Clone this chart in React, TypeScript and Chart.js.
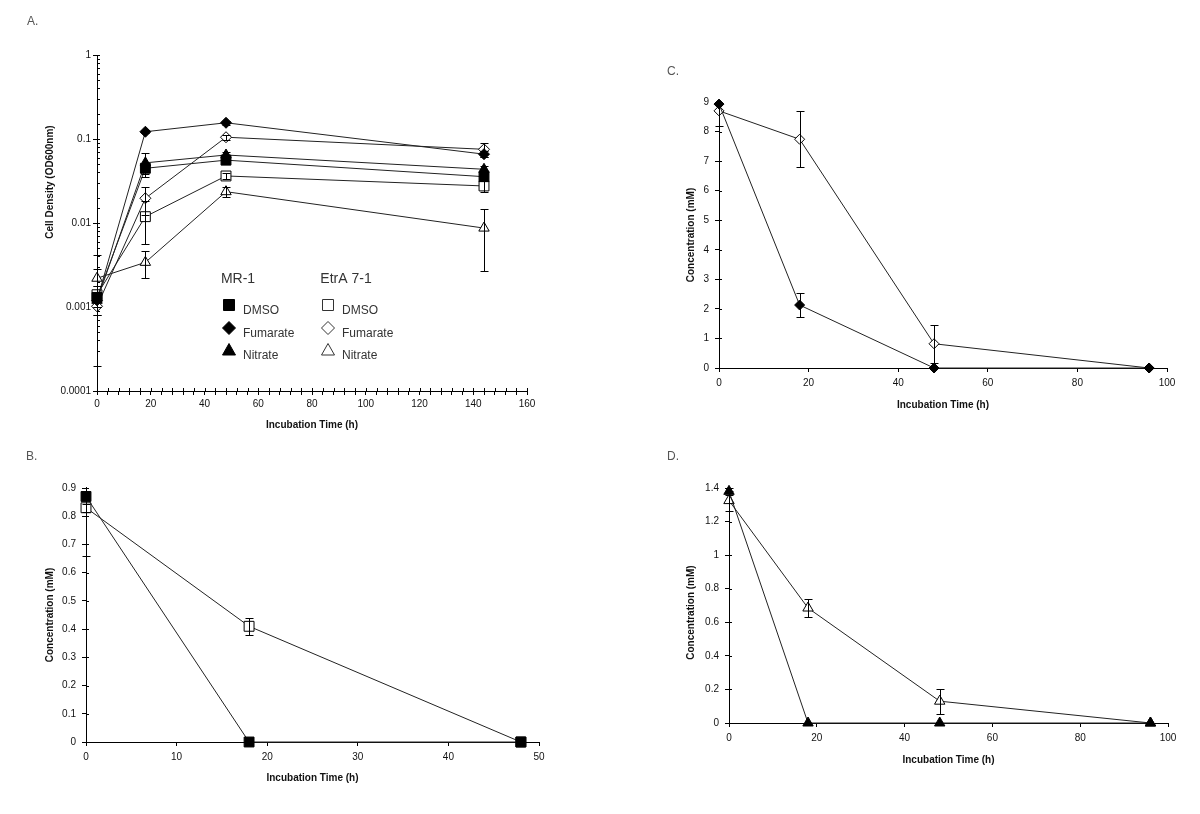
import React, { useEffect, useRef } from 'react';
import { Chart, registerables } from 'chart.js';

Chart.register(...registerables);

const FONT = "'Liberation Sans', Arial, sans-serif";

// ---------- Panel A: cell density (log scale) ----------
const timeA = [0, 18, 48, 144];
const mr1DmsoOD = [0.0013, 0.0448, 0.056, 0.0356];
const mr1DmsoODErr = [0.0005, 0.007, 0.004, 0.003];
const mr1FumarateOD = [0.0012, 0.122, 0.156, 0.066];
const mr1FumarateODErr = [0.0002, 0.005, 0.008, 0.005];
const mr1NitrateOD = [0.0012, 0.052, 0.0645, 0.0436];
const mr1NitrateODErr = [0.0016, 0.017, 0.005, 0.004];
const etrDmsoOD = [0.0014, 0.0119, 0.0363, 0.0276];
const etrDmsoODErr = [0.0004, 0.0063, 0.003, 0.0043];
const etrFumarateOD = [0.00102, 0.0197, 0.105, 0.0754];
const etrFumarateODErr = [0.00022, 0.0073, 0.008, 0.014];
const etrNitrateOD = [0.0022, 0.0034, 0.0236, 0.0087];
const etrNitrateODErr = [0.002, 0.0012, 0.003, 0.006];
const yTickLabelsA = ['0.0001', '0.001', '0.01', '0.1', '1'];

// ---------- Panel B: DMSO concentration ----------
const timeB = [0, 18, 48];
const mr1DmsoMM = [0.87, 0, 0];
const mr1DmsoMMErr = [0.21, 0, 0];
const etrDmsoMM = [0.83, 0.41, 0];
const etrDmsoMMErr = [0.015, 0.03, 0];

// ---------- Panels C & D: fumarate / nitrate concentration ----------
const timeCD = [0, 18, 48, 96];
const mr1FumarateMM = [8.93, 2.13, 0, 0];
const mr1FumarateMMErr = [0, 0.42, 0, 0];
const etrFumarateMM = [8.7, 7.74, 0.82, 0];
const etrFumarateMMErr = [0.5, 0.95, 0.64, 0];
const mr1NitrateMM = [1.38, 0, 0, 0];
const mr1NitrateMMErr = [0.02, 0, 0, 0];
const etrNitrateMM = [1.325, 0.685, 0.13, 0];
const etrNitrateMMErr = [0.06, 0.056, 0.075, 0];

// ---------- labels ----------
const legendGroups = ['MR-1', 'EtrA 7-1'];
const legendItems = ['DMSO', 'Fumarate', 'Nitrate'];
const legendStyles = ['rect', 'rectRot', 'triangle'];
const xTitle = 'Incubation Time (h)';
const yTitleA = 'Cell Density (OD600nm)';
const yTitleConc = 'Concentration (mM)';

function series(label: string, xs: number[], ys: number[], errs: number[], style: string, filled: boolean, radius: number) {
  return {
    label,
    data: xs.map((x, i) => ({ x, y: ys[i] })),
    errors: errs,
    showLine: true,
    borderColor: '#222',
    borderWidth: 1,
    pointStyle: style,
    pointRadius: radius,
    pointHoverRadius: radius,
    pointBackgroundColor: filled ? '#000' : '#fff',
    pointBorderColor: '#000',
    pointBorderWidth: 1,
    tension: 0,
    fill: false,
    clip: false,
  };
}

const errorBarPlugin = {
  id: 'errorBars',
  afterDatasetsDraw(chart: any) {
    const { ctx, chartArea: a, scales } = chart;
    const xs = scales.x;
    const ys = scales.y;
    const isLog = ys.type === 'logarithmic';
    ctx.save();
    ctx.beginPath();
    ctx.rect(a.left - 8, a.top - 1, a.right - a.left + 16, a.bottom - a.top + 2);
    ctx.clip();
    ctx.strokeStyle = '#000';
    ctx.lineWidth = 1;
    chart.data.datasets.forEach((ds: any) => {
      const errs = ds.errors;
      if (!errs) return;
      ds.data.forEach((p: any, j: number) => {
        const e = errs[j];
        if (!e) return;
        const px = Math.round(xs.getPixelForValue(p.x)) + 0.5;
        const hi = p.y + e;
        const lo = p.y - e;
        const loValid = isLog ? lo > 0 : true;
        const yHi = Math.round(ys.getPixelForValue(hi)) + 0.5;
        const yLo = loValid ? Math.round(ys.getPixelForValue(lo)) + 0.5 : ys.getPixelForValue(p.y);
        ctx.beginPath();
        ctx.moveTo(px, yHi);
        ctx.lineTo(px, yLo);
        ctx.moveTo(px - 4, yHi);
        ctx.lineTo(px + 4, yHi);
        if (loValid) {
          ctx.moveTo(px - 4, yLo);
          ctx.lineTo(px + 4, yLo);
        }
        ctx.stroke();
      });
    });
    ctx.restore();
  },
};

function makeInnerTicks(xLen: number, yLen: number) {
  return {
    id: 'innerTicks',
    afterDraw(chart: any) {
      const { ctx, chartArea: a, scales } = chart;
      ctx.save();
      ctx.strokeStyle = '#000';
      ctx.lineWidth = 1;
      ctx.beginPath();
      if (yLen) {
        scales.y.ticks.forEach((t: any) => {
          const p = Math.round(scales.y.getPixelForValue(t.value)) + 0.5;
          ctx.moveTo(a.left, p);
          ctx.lineTo(a.left + yLen, p);
        });
      }
      if (xLen) {
        scales.x.ticks.forEach((t: any) => {
          const p = Math.round(scales.x.getPixelForValue(t.value)) + 0.5;
          ctx.moveTo(p, a.bottom);
          ctx.lineTo(p, a.bottom - xLen);
        });
      }
      ctx.stroke();
      ctx.restore();
    },
  };
}

function makePanelText(letter: string, lx: number, ly: number, xOff: number, yTitle: string, yx: number, yFrac: number) {
  return {
    id: 'panelText',
    afterDraw(chart: any) {
      const { ctx, chartArea: a } = chart;
      ctx.save();
      ctx.fillStyle = '#555';
      ctx.font = `12px ${FONT}`;
      ctx.textAlign = 'left';
      ctx.textBaseline = 'middle';
      ctx.fillText(letter, lx, ly);
      ctx.fillStyle = '#111';
      ctx.font = `bold 10px ${FONT}`;
      ctx.textAlign = 'center';
      ctx.fillText(xTitle, (a.left + a.right) / 2, a.bottom + xOff);
      ctx.translate(yx, a.top + (a.bottom - a.top) * yFrac);
      ctx.rotate(-Math.PI / 2);
      ctx.fillText(yTitle, 0, 0);
      ctx.restore();
    },
  };
}

function drawMarker(ctx: any, style: string, x: number, y: number, filled: boolean) {
  ctx.beginPath();
  if (style === 'rect') {
    ctx.rect(x - 5.5, y - 5.5, 11, 11);
  } else if (style === 'rectRot') {
    ctx.moveTo(x, y - 6.5);
    ctx.lineTo(x + 6.5, y);
    ctx.lineTo(x, y + 6.5);
    ctx.lineTo(x - 6.5, y);
    ctx.closePath();
  } else {
    ctx.moveTo(x, y - 6.5);
    ctx.lineTo(x + 6.5, y + 5);
    ctx.lineTo(x - 6.5, y + 5);
    ctx.closePath();
  }
  ctx.fillStyle = filled ? '#000' : '#fff';
  ctx.fill();
  ctx.strokeStyle = filled ? '#000' : '#333';
  ctx.lineWidth = 1;
  ctx.stroke();
}

const groupLegendPlugin = {
  id: 'groupLegend',
  afterDraw(chart: any) {
    const { ctx } = chart;
    const headerX = [238, 346];
    const headerY = 279;
    const markerX = [229, 328];
    const textX = [243, 342];
    const rowY = [305, 328, 350];
    ctx.save();
    ctx.fillStyle = '#333';
    ctx.font = `14px ${FONT}`;
    ctx.textAlign = 'center';
    ctx.textBaseline = 'middle';
    legendGroups.forEach((g, gi) => ctx.fillText(g, headerX[gi], headerY));
    ctx.font = `12px ${FONT}`;
    ctx.textAlign = 'left';
    legendItems.forEach((item, ri) => {
      legendGroups.forEach((_g, gi) => {
        drawMarker(ctx, legendStyles[ri], markerX[gi], rowY[ri], gi === 0);
        ctx.fillStyle = '#333';
        ctx.fillText(item, textX[gi], rowY[ri] + 5.5);
      });
    });
    ctx.restore();
  },
};

const tickFont = { family: FONT, size: 10 };
const axisGrid = { display: true, drawOnChartArea: false, drawTicks: true, tickLength: 4, color: '#000', tickColor: '#000' };
const axisBorder = { display: true, color: '#000', width: 1 };

function isDecade(v: number) {
  const l = Math.log10(v);
  return Math.abs(l - Math.round(l)) < 1e-6;
}

function fmt(v: any) {
  return String(Number(Number(v).toFixed(2)));
}

function baseOptions(pad: any) {
  return {
    animation: false,
    responsive: false,
    devicePixelRatio: 1,
    layout: { padding: pad },
    plugins: { legend: { display: false }, tooltip: { enabled: false } },
  };
}

function linX(max: number, step: number, height: number, pad: number) {
  return {
    type: 'linear',
    min: 0,
    max,
    afterFit: (s: any) => { s.height = height; },
    ticks: { stepSize: step, autoSkip: false, maxRotation: 0, font: tickFont, color: '#111', padding: pad, callback: fmt },
    grid: axisGrid,
    border: axisBorder,
  };
}

function linY(max: number, step: number, width: number) {
  return {
    type: 'linear',
    min: 0,
    max,
    afterFit: (s: any) => { s.width = width; },
    ticks: { stepSize: step, autoSkip: false, font: tickFont, color: '#111', padding: 6, callback: fmt },
    grid: axisGrid,
    border: axisBorder,
  };
}

function makeA() {
  return {
    type: 'line',
    data: {
      datasets: [
        series('MR-1 DMSO', timeA, mr1DmsoOD, mr1DmsoODErr, 'rect', true, 7),
        series('MR-1 Fumarate', timeA, mr1FumarateOD, mr1FumarateODErr, 'rectRot', true, 5.5),
        series('MR-1 Nitrate', timeA, mr1NitrateOD, mr1NitrateODErr, 'triangle', true, 6),
        series('EtrA 7-1 DMSO', timeA, etrDmsoOD, etrDmsoODErr, 'rect', false, 7),
        series('EtrA 7-1 Fumarate', timeA, etrFumarateOD, etrFumarateODErr, 'rectRot', false, 5.5),
        series('EtrA 7-1 Nitrate', timeA, etrNitrateOD, etrNitrateODErr, 'triangle', false, 6),
      ],
    },
    options: {
      ...baseOptions({ top: 55, right: 73, left: 0, bottom: 0 }),
      scales: {
        x: {
          type: 'linear',
          min: 0,
          max: 160,
          afterFit: (s: any) => { s.height = 49; },
          ticks: {
            stepSize: 4,
            autoSkip: false,
            maxRotation: 0,
            font: tickFont,
            color: '#111',
            padding: 3,
            callback: (v: any) => (Math.round(v) % 20 === 0 ? String(Math.round(v)) : ''),
          },
          grid: axisGrid,
          border: axisBorder,
        },
        y: {
          type: 'logarithmic',
          min: 0.0001,
          max: 1,
          afterFit: (s: any) => { s.width = 97; },
          ticks: {
            autoSkip: false,
            font: tickFont,
            color: '#111',
            padding: 2,
            callback: (v: any) => (isDecade(v) ? yTickLabelsA[Math.round(Math.log10(v)) + 4] : ''),
          },
          grid: {
            ...axisGrid,
            tickColor: (c: any) => (c.tick && isDecade(c.tick.value) ? '#000' : 'rgba(0,0,0,0)'),
          },
          border: axisBorder,
        },
      },
    },
    plugins: [errorBarPlugin, makeInnerTicks(3, 3), makePanelText('A.', 27, 22, 34, yTitleA, 50, 0.378), groupLegendPlugin],
  };
}

function makeB() {
  return {
    type: 'line',
    data: {
      datasets: [
        series('MR-1 DMSO', timeB, mr1DmsoMM, mr1DmsoMMErr, 'rect', true, 7),
        series('EtrA 7-1 DMSO', timeB, etrDmsoMM, etrDmsoMMErr, 'rect', false, 7),
      ],
    },
    options: {
      ...baseOptions({ top: 48, right: 61, left: 0, bottom: 0 }),
      scales: { x: linX(50, 10, 72, 5), y: linY(0.9, 0.1, 86) },
    },
    plugins: [errorBarPlugin, makeInnerTicks(0, 3), makePanelText('B.', 26, 17, 36, yTitleConc, 50, 0.5)],
  };
}

function makeC() {
  return {
    type: 'line',
    data: {
      datasets: [
        series('MR-1 Fumarate', timeCD, mr1FumarateMM, mr1FumarateMMErr, 'rectRot', true, 5),
        series('EtrA 7-1 Fumarate', timeCD, etrFumarateMM, etrFumarateMMErr, 'rectRot', false, 5),
      ],
    },
    options: {
      ...baseOptions({ top: 102, right: 33, left: 0, bottom: 0 }),
      scales: { x: linX(100, 20, 72, 5), y: linY(9, 1, 119) },
    },
    plugins: [errorBarPlugin, makeInnerTicks(0, 3), makePanelText('C.', 67, 72, 37, yTitleConc, 91, 0.5)],
  };
}

function makeD() {
  return {
    type: 'line',
    data: {
      datasets: [
        series('MR-1 Nitrate', timeCD, mr1NitrateMM, mr1NitrateMMErr, 'triangle', true, 6),
        series('EtrA 7-1 Nitrate', timeCD, etrNitrateMM, etrNitrateMMErr, 'triangle', false, 6),
      ],
    },
    options: {
      ...baseOptions({ top: 48, right: 32, left: 0, bottom: 0 }),
      scales: { x: linX(100, 20, 91, 5), y: linY(1.4, 0.2, 129) },
    },
    plugins: [errorBarPlugin, makeInnerTicks(0, 3), makePanelText('D.', 67, 17, 37, yTitleConc, 91, 0.53)],
  };
}

function Panel({ make, left, top, w, h }: any) {
  const ref = useRef<HTMLCanvasElement>(null);
  useEffect(() => {
    const chart = new Chart(ref.current as any, make() as any);
    return () => chart.destroy();
  }, [make]);
  return (
    <canvas
      ref={ref}
      width={w}
      height={h}
      style={{ position: 'absolute', left, top, width: w, height: h, display: 'block' }}
    />
  );
}

export default function App() {
  return (
    <div style={{ position: 'absolute', left: 0, top: 0, width: 1200, height: 814, background: '#fff', overflow: 'hidden' }}>
      <Panel make={makeA} left={0} top={0} w={600} h={440} />
      <Panel make={makeC} left={600} top={0} w={600} h={440} />
      <Panel make={makeB} left={0} top={440} w={600} h={374} />
      <Panel make={makeD} left={600} top={440} w={600} h={374} />
    </div>
  );
}
